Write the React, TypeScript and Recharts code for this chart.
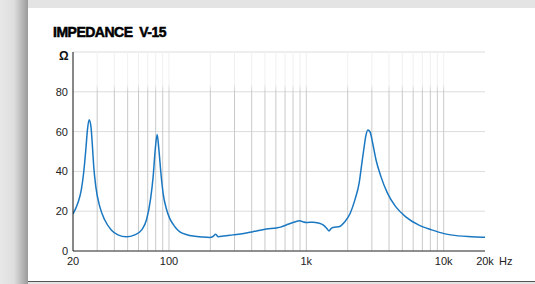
import React from "react";
import { LineChart, Line, XAxis, YAxis, CartesianGrid, ReferenceLine } from "recharts";

// impedance curve (Hz, ohm)
const freqs = [
  20, 21.7, 23, 23.9, 24.8, 25.5, 26.2, 27, 27.7, 28.3, 29.3, 31.3, 34, 38, 42.5, 48.9, 56.3, 63.3,
  68.6, 73.3, 76.7, 79.4, 82, 84.4, 87.3, 90.6, 95.9, 101, 107, 113, 120, 135, 150, 175, 198, 209,
  219, 228, 250, 292, 350, 409, 512, 605, 650, 716, 800, 897, 950, 1002, 1119, 1220, 1323, 1400,
  1462, 1520, 1565, 1750, 1900, 2088, 2260, 2425, 2521, 2620, 2710, 2803, 2914, 3037, 3212, 3489,
  3897, 4458, 5270, 6560, 8180, 10220, 12770, 15950, 20000,
];
const ohms = [
  18.7, 24.1, 30.8, 39.2, 51, 61.1, 66, 62.8, 52.7, 42.6, 32.5, 22.4, 15.7, 10.6, 8.1, 7.1, 8.1, 10.6,
  15.7, 25.8, 37.5, 51, 58.5, 51, 39.2, 29, 21, 16.5, 13.5, 11.3, 9.6, 8.2, 7.5, 7.0, 6.8, 7.3,
  8.4, 7.2, 7.5, 8.1, 8.8, 9.7, 11, 11.6, 12, 13.1, 14.3, 15.2, 14.6, 14.3, 14.5, 14.1, 13.1, 11.6,
  10.1, 11.4, 11.8, 12.3, 14.6, 19, 25.8, 34.2, 42.6, 51, 57.7, 60.8, 59.8, 54.4, 46, 37.5,
  29.1, 22.4, 17.3, 13.1, 10.6, 8.6, 7.6, 7.2, 6.9,
];

const xTicks = [20, 100, 1000, 10000, 20000];
const xTickLabels = ["20", "100", "1k", "10k", "20k"];
const yTicks = [0, 20, 40, 60, 80];
const gridFreqs = [
  30, 40, 50, 60, 70, 80, 90, 100, 200, 300, 400, 500, 600, 700, 800, 900, 1000,
  2000, 3000, 4000, 5000, 6000, 7000, 8000, 9000, 10000,
];

const data = freqs.map((f, i) => ({ f, z: ohms[i] }));

const font = "'Liberation Sans', Arial, sans-serif";
const tickStyle = { fill: "#222", fontSize: 11, fontFamily: font };

export default function App() {
  return (
    <div style={{ position: "absolute", left: 0, top: 0, width: 535, height: 284, overflow: "hidden", background: "#e4e4e4" }}>
      {/* shadow strip on the left */}
      <div
        style={{
          position: "absolute",
          left: 0,
          top: 0,
          width: 28,
          height: 284,
          background: "linear-gradient(to right, #e8e8e8 0px, #dedede 14px, #b8b8b8 22px, #9a9a9a 28px)",
        }}
      />
      {/* card */}
      <div
        style={{
          position: "absolute",
          left: 28,
          top: 8,
          width: 507,
          height: 273,
          background: "#fff",
          boxShadow: "0 1px 0 #555",
        }}
      />
      <div
        style={{
          position: "absolute",
          left: 53,
          top: 25,
          fontFamily: font,
          fontSize: 14,
          lineHeight: "14px",
          fontWeight: 900,
          color: "#000",
          letterSpacing: -0.5,
          WebkitTextStroke: "0.5px #000",
          whiteSpace: "pre",
        }}
      >
        {"IMPEDANCE  V-15"}
      </div>
      <div style={{ position: "absolute", left: 59, top: 50, fontFamily: font, fontSize: 12, lineHeight: "12px", fontWeight: 700, color: "#111" }}>
        Ω
      </div>
      <div style={{ position: "absolute", left: 499, top: 256, fontFamily: font, fontSize: 11, lineHeight: "11px", color: "#222" }}>
        Hz
      </div>
      <div style={{ position: "absolute", left: 0, top: 0 }}>
        <LineChart width={535} height={284} data={data} margin={{ top: 52, right: 50, left: 13, bottom: 0 }}>
          <defs>
            <linearGradient id="vgrid" gradientUnits="userSpaceOnUse" x1="0" y1="52" x2="0" y2="251">
              <stop offset="0" stopColor="#f0f0f0" />
              <stop offset="0.16" stopColor="#f0f0f0" />
              <stop offset="0.2" stopColor="#c9c9c9" />
              <stop offset="1" stopColor="#c9c9c9" />
            </linearGradient>
          </defs>
          <CartesianGrid vertical={false} stroke="#dcdcdc" />
          {gridFreqs.map((g) => (
            <ReferenceLine key={g} x={g} stroke="url(#vgrid)" strokeWidth={1} />
          ))}
          <XAxis
            dataKey="f"
            type="number"
            scale="log"
            domain={[20, 20000]}
            ticks={xTicks}
            tickFormatter={(v: number) => xTickLabels[xTicks.indexOf(v)] ?? ""}
            tick={tickStyle}
            tickLine={false}
            tickSize={0}
            tickMargin={6}
            axisLine={{ stroke: "#333" }}
            height={33}
            allowDataOverflow
            interval={0}
          />
          <YAxis
            type="number"
            domain={[0, 100]}
            ticks={yTicks}
            tick={tickStyle}
            tickLine={false}
            tickSize={0}
            tickMargin={5}
            axisLine={{ stroke: "#111" }}
            width={60}
            interval={0}
          />
          <Line
            type="monotone"
            dataKey="z"
            stroke="#1a78c2"
            strokeWidth={1.5}
            dot={false}
            isAnimationActive={false}
          />
        </LineChart>
      </div>
    </div>
  );
}
